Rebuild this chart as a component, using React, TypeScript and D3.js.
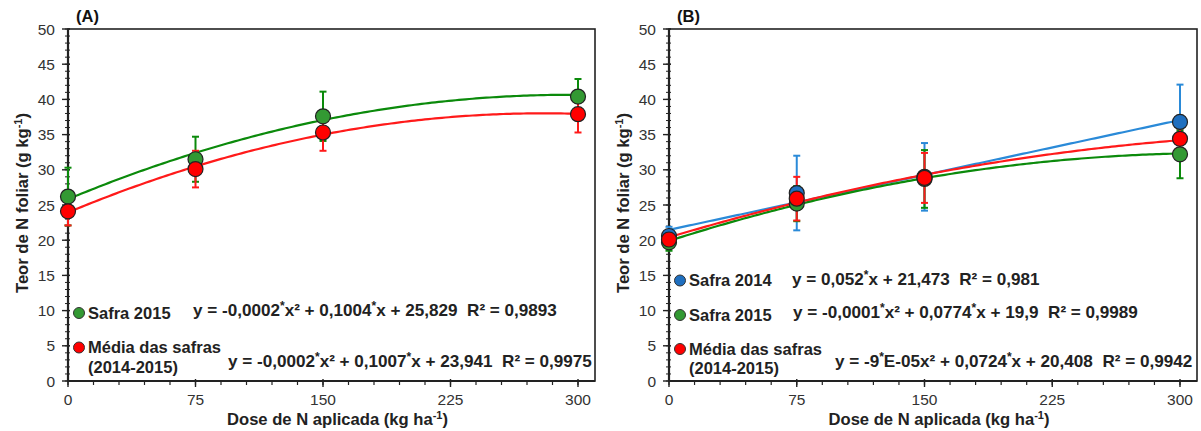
import React from "react";
import * as d3 from "d3";

// ---------- DATA ----------
const doses = [0, 75, 150, 300];
const xTicks = [0, 75, 150, 225, 300];
const yTicks = [0, 5, 10, 15, 20, 25, 30, 35, 40, 45, 50];

// Panel A
const aSafra2015 = [26.2, 31.5, 37.6, 40.4];
const aSafra2015Err = [4.1, 3.2, 3.5, 2.5];
const aMedia = [24.1, 30.1, 35.3, 37.9];
const aMediaErr = [2.0, 2.6, 2.6, 2.6];
// trend line coefficients [a, b, c] for y = a*x^2 + b*x + c (as drawn)
const aSafra2015Fit = [-0.00017, 0.1004, 25.829];
const aMediaFit = [-0.00018, 0.1007, 23.941];
const aSafra2015Eq = "y = -0,0002*x² + 0,1004*x + 25,829  R² = 0,9893";
const aMediaEq = "y = -0,0002*x² + 0,1007*x + 23,941  R² = 0,9975";

// Panel B
const bSafra2014 = [20.6, 26.7, 29.0, 36.8];
const bSafra2014Err = [1.3, 5.3, 4.8, 5.3];
const bSafra2015 = [19.7, 25.2, 28.7, 32.2];
const bSafra2015Err = [1.2, 2.5, 4.1, 3.4];
const bMedia = [20.1, 25.9, 28.85, 34.4];
const bMediaErr = [0.8, 3.1, 3.55, 1.5];
const bSafra2014Fit = [0, 0.052, 21.473];
const bSafra2015Fit = [-0.00012, 0.0774, 19.9];
const bMediaFit = [-0.000088, 0.0724, 20.408];
const bSafra2014Eq = "y = 0,052*x + 21,473  R² = 0,981";
const bSafra2015Eq = "y = -0,0001*x² + 0,0774*x + 19,9  R² = 0,9989";
const bMediaEq = "y = -9*E-05x² + 0,0724*x + 20,408  R² = 0,9942";

const GREEN = { fill: "#339933", line: "#0b8a0b" };
const RED = { fill: "#ff0000", line: "#ff1a1a" };
const BLUE = { fill: "#1f6fbf", line: "#2a8ad8" };

type Series = {
  values: number[];
  err: number[];
  fit: number[];
  color: { fill: string; line: string };
  label: string[];
  eq: string;
  legendY: number;
  eqX: number;
  eqY: number;
};

type PanelCfg = {
  tag: string;
  x0: number;
  x300: number;
  right: number;
  series: Series[];
};

const TOP = 29;
const BOTTOM = 381;
const FONT = "'Liberation Sans', Arial, sans-serif";

function Eq({ text, x, y }: { text: string; x: number; y: number }) {
  const parts = text.split("*");
  const kids: React.ReactNode[] = [];
  parts.forEach((p, i) => {
    if (i > 0) {
      kids.push(
        <tspan key={"s" + i} dy={-6} fontSize={12}>
          *
        </tspan>
      );
      kids.push(
        <tspan key={"p" + i} dy={6}>
          {p}
        </tspan>
      );
    } else kids.push(<tspan key={"p" + i}>{p}</tspan>);
  });
  return (
    <text x={x} y={y} fontSize={17.1} fontWeight="bold" fill="#222" style={{ whiteSpace: "pre" }}>
      {kids}
    </text>
  );
}

function Panel({ cfg }: { cfg: PanelCfg }) {
  const x = d3.scaleLinear().domain([0, 300]).range([cfg.x0, cfg.x300]);
  const y = d3.scaleLinear().domain([0, 50]).range([BOTTOM, TOP]);
  const xMinor = d3.range(0, 301, 15);
  const yMinor = d3.range(0, 51, 1);
  const curveX = d3.range(0, 300.01, 2);
  const line = (f: number[]) =>
    d3
      .line<number>()
      .x((v) => x(v))
      .y((v) => y(f[0] * v * v + f[1] * v + f[2]))(curveX) || "";
  const midX = (cfg.x0 + cfg.right) / 2;
  return (
    <g fontFamily={FONT}>
      <text x={cfg.x0 + 8} y={22} fontSize={16.5} fontWeight="bold" fill="#111">
        {cfg.tag}
      </text>
      {/* frame */}
      <rect x={cfg.x0} y={TOP} width={cfg.right - cfg.x0} height={BOTTOM - TOP} fill="none" stroke="#222" strokeWidth={1.6} />
      {/* y minor/major ticks */}
      {yMinor.map((v) => (
        <line key={"ym" + v} x1={cfg.x0 - 3} x2={cfg.x0 + 2} y1={y(v)} y2={y(v)} stroke="#222" strokeWidth={1} />
      ))}
      {yTicks.map((v) => (
        <g key={"yt" + v}>
          <line x1={cfg.x0 - 6} x2={cfg.x0 + 2} y1={y(v)} y2={y(v)} stroke="#222" strokeWidth={1.4} />
          <text x={cfg.x0 - 13} y={y(v) + 5.5} fontSize={15.5} textAnchor="end" fill="#333">
            {v}
          </text>
        </g>
      ))}
      {xMinor.map((v) => (
        <line key={"xm" + v} x1={x(v)} x2={x(v)} y1={BOTTOM} y2={BOTTOM + 4} stroke="#222" strokeWidth={1.2} />
      ))}
      {xTicks.map((v) => (
        <g key={"xt" + v}>
          <line x1={x(v)} x2={x(v)} y1={BOTTOM - 2} y2={BOTTOM + 6} stroke="#222" strokeWidth={1.4} />
          <text x={x(v)} y={405} fontSize={15.5} textAnchor="middle" fill="#333">
            {v}
          </text>
        </g>
      ))}
      <line x1={cfg.x0} x2={cfg.x0} y1={TOP} y2={BOTTOM} stroke="#222" strokeWidth={2.2} />
      <line x1={cfg.x0} x2={cfg.right} y1={BOTTOM} y2={BOTTOM} stroke="#222" strokeWidth={2.2} />
      {/* axis titles */}
      <text x={midX + 6} y={425} fontSize={16.6} fontWeight="bold" textAnchor="middle" fill="#222">
        Dose de N aplicada (kg ha
        <tspan dy={-6} fontSize={11}>-1</tspan>
        <tspan dy={6}>)</tspan>
      </text>
      <text
        transform={`translate(${cfg.x0 - 40},${203}) rotate(-90)`}
        fontSize={16.6}
        fontWeight="bold"
        textAnchor="middle"
        fill="#222"
      >
        Teor de N foliar (g kg
        <tspan dy={-6} fontSize={11}>-1</tspan>
        <tspan dy={6}>)</tspan>
      </text>
      {/* trend lines */}
      {cfg.series.map((s, i) => (
        <path key={"l" + i} d={line(s.fit)} fill="none" stroke={s.color.line} strokeWidth={2.2} />
      ))}
      {/* error bars */}
      {cfg.series.map((s, i) =>
        doses.map((d, j) => (
          <g key={"e" + i + "-" + j} stroke={s.color.line} strokeWidth={2}>
            <line x1={x(d)} x2={x(d)} y1={y(s.values[j] - s.err[j])} y2={y(s.values[j] + s.err[j])} />
            <line x1={x(d) - 3.5} x2={x(d) + 3.5} y1={y(s.values[j] + s.err[j])} y2={y(s.values[j] + s.err[j])} />
            <line x1={x(d) - 3.5} x2={x(d) + 3.5} y1={y(s.values[j] - s.err[j])} y2={y(s.values[j] - s.err[j])} />
          </g>
        ))
      )}
      {/* markers */}
      {cfg.series.map((s, i) =>
        doses.map((d, j) => (
          <circle key={"c" + i + "-" + j} cx={x(d)} cy={y(s.values[j])} r={7.5} fill={s.color.fill} stroke="#222" strokeWidth={1.2} />
        ))
      )}
      {/* legend + equations */}
      {cfg.series.map((s, i) => (
        <g key={"lg" + i}>
          <circle cx={cfg.x0 + 11} cy={s.legendY} r={5.5} fill={s.color.fill} stroke="#333" strokeWidth={1} />
          {s.label.map((t, k) => (
            <text key={k} x={cfg.x0 + 20} y={s.legendY + 5.5 + k * 19.5} fontSize={16.5} fontWeight="bold" fill="#222">
              {t}
            </text>
          ))}
          <Eq text={s.eq} x={s.eqX} y={s.eqY} />
        </g>
      ))}
    </g>
  );
}

const panelA: PanelCfg = {
  tag: "(A)",
  x0: 68,
  x300: 578,
  right: 595,
  series: [
    { values: aSafra2015, err: aSafra2015Err, fit: aSafra2015Fit, color: GREEN, label: ["Safra 2015"], eq: aSafra2015Eq, legendY: 313, eqX: 193, eqY: 316 },
    { values: aMedia, err: aMediaErr, fit: aMediaFit, color: RED, label: ["Média das safras", "(2014-2015)"], eq: aMediaEq, legendY: 347.5, eqX: 228, eqY: 367 },
  ],
};

const panelB: PanelCfg = {
  tag: "(B)",
  x0: 669,
  x300: 1180,
  right: 1197,
  series: [
    { values: bSafra2014, err: bSafra2014Err, fit: bSafra2014Fit, color: BLUE, label: ["Safra 2014"], eq: bSafra2014Eq, legendY: 280.5, eqX: 792, eqY: 285 },
    { values: bSafra2015, err: bSafra2015Err, fit: bSafra2015Fit, color: GREEN, label: ["Safra 2015"], eq: bSafra2015Eq, legendY: 315, eqX: 793, eqY: 318 },
    { values: bMedia, err: bMediaErr, fit: bMediaFit, color: RED, label: ["Média das safras", "(2014-2015)"], eq: bMediaEq, legendY: 349, eqX: 835, eqY: 367 },
  ],
};

export default function App() {
  return (
    <svg
      width={1201}
      height={431}
      style={{ position: "absolute", left: 0, top: 0, background: "#fff" }}
    >
      <rect width={1201} height={431} fill="#fff" />
      <Panel cfg={panelA} />
      <Panel cfg={panelB} />
    </svg>
  );
}
